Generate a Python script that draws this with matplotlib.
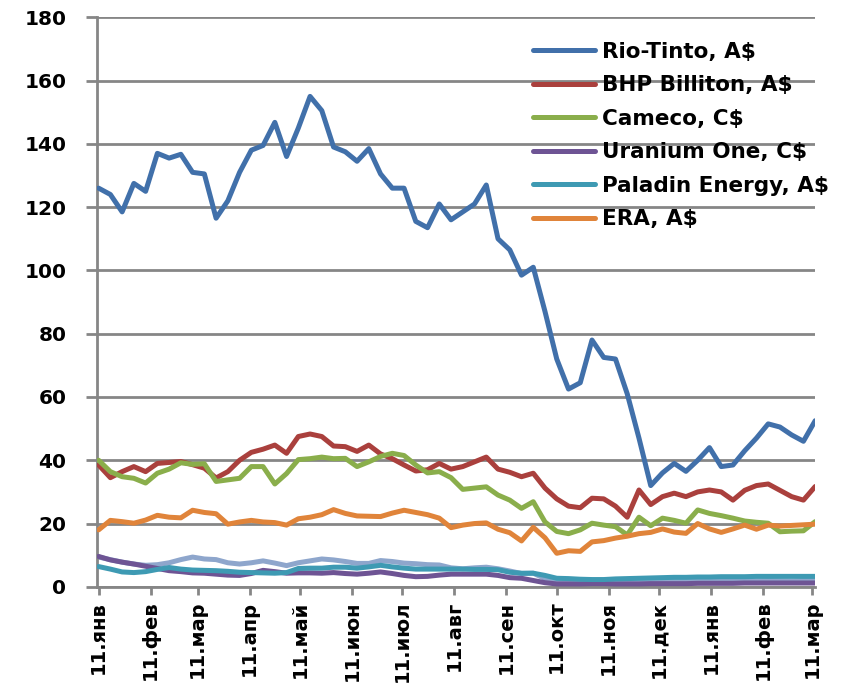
import matplotlib
matplotlib.use("Agg")
import matplotlib.pyplot as plt
import pandas as pd

# weekly closes, Jan 2011 - Mar 2012
weeks = pd.date_range("2011-01-01", periods=62, freq="7D")

rio_tinto = [126, 124, 118.5, 127.5, 125, 137, 135.5, 136.7, 131, 130.5,
             116.5, 122, 131, 138, 139.5, 146.8, 136, 145, 155, 150.5,
             139, 137.5, 134.5, 138.5, 130.5, 126, 126, 115.5, 113.5, 121,
             116, 118.5, 121, 127, 110, 106.5, 98.5, 101, 87, 72,
             62.5, 64.5, 78, 72.5, 72, 61, 47, 32, 36, 39,
             36.5, 40, 44, 38, 38.5, 43, 47, 51.5, 50.5, 48,
             46, 52.5]
bhp = [38.5, 34.5, 36.4, 38, 36.4, 39, 39.3, 39.6, 38.6, 37.5,
       34.4, 36.4, 40, 42.5, 43.5, 44.8, 42.2, 47.5, 48.3, 47.5,
       44.5, 44.3, 42.8, 44.8, 42, 40.5, 38.5, 36.6, 37, 39,
       37.2, 38, 39.5, 41, 37.2, 36.2, 34.8, 35.9, 31.2, 27.8,
       25.5, 25, 28, 27.8, 25.5, 22, 30.6, 26, 28.5, 29.6,
       28.5, 30, 30.6, 30, 27.4, 30.5, 32, 32.5, 30.5, 28.5,
       27.4, 31.7]
cameco = [40, 36.4, 34.8, 34.3, 32.8, 35.9, 37.2, 39.2, 38.7, 38.9,
          33.3, 33.8, 34.3, 38, 38, 32.5, 35.8, 40.2, 40.5, 41,
          40.5, 40.6, 38, 39.5, 41.2, 42.2, 41.5, 38.5, 36, 36.4,
          34.5, 30.8, 31.2, 31.6, 29, 27.4, 24.8, 26.9, 20.5, 17.5,
          16.8, 18, 20.1, 19.5, 19, 16.4, 22, 19.3, 21.7, 21,
          20.1, 24.3, 23.2, 22.5, 21.7, 20.8, 20.4, 20.1, 17.4, 17.6,
          17.7, 20.6]
uranium_one = [9.6, 8.5, 7.8, 7.2, 6.5, 5.8, 5.1, 4.8, 4.4, 4.3,
               4, 3.7, 3.6, 4.2, 5.2, 4.8, 4.3, 4.4, 4.4, 4.3,
               4.5, 4.2, 4, 4.3, 4.7, 4.2, 3.6, 3.2, 3.3, 3.7,
               4, 4, 4, 4, 3.6, 2.9, 2.7, 2, 1.3, 0.9,
               0.9, 0.9, 1, 1, 0.9, 0.9, 0.9, 1, 1, 1,
               1, 1.1, 1.1, 1.1, 1.1, 1.2, 1.2, 1.2, 1.2, 1.2,
               1.2, 1.2]
paladin = [6.4, 5.6, 4.7, 4.5, 4.8, 5.5, 6.1, 5.6, 5.3, 5.2,
           5.1, 4.9, 4.6, 4.5, 4.4, 4.3, 4.5, 5.8, 5.9, 5.9,
           6.2, 6.2, 5.9, 6.3, 6.8, 6.3, 5.9, 5.6, 5.6, 5.6,
           5.6, 5.6, 5.5, 5.5, 5.4, 4.6, 4.3, 4.3, 3.6, 2.7,
           2.6, 2.4, 2.3, 2.3, 2.5, 2.6, 2.7, 2.8, 2.9, 3,
           3, 3.1, 3.1, 3.2, 3.2, 3.2, 3.3, 3.3, 3.3, 3.3,
           3.3, 3.3]
era = [18, 21, 20.6, 20.1, 21.1, 22.6, 22, 21.8, 24.2, 23.5,
       23.1, 19.8, 20.5, 21, 20.5, 20.3, 19.5, 21.5, 22, 22.8,
       24.4, 23.2, 22.4, 22.3, 22.2, 23.3, 24.2, 23.5, 22.8, 21.7,
       18.7, 19.5, 20, 20.2, 18.2, 17.1, 14.5, 18.8, 15.5, 10.6,
       11.4, 11.2, 14.2, 14.6, 15.4, 16, 16.8, 17.2, 18.3, 17.3,
       16.9, 20, 18.3, 17.2, 18.3, 19.5, 18.2, 19.5, 19.2, 19.4,
       19.6, 19.8]
# seventh line, not named in the legend
unnamed = [9.4, 8.6, 7.8, 7.2, 6.8, 7, 7.6, 8.6, 9.4, 8.8,
           8.6, 7.6, 7.2, 7.6, 8.2, 7.5, 6.7, 7.6, 8.2, 8.8,
           8.5, 8, 7.4, 7.4, 8.3, 8, 7.5, 7.3, 7, 6.9,
           6, 5.7, 6, 6.2, 5.7, 5, 4.2, 4.3, 2.6, 1.7,
           1.5, 1.5, 1.6, 1.5, 1.4, 1.4, 1.5, 1.6, 1.6, 1.7,
           1.8, 2, 2, 1.9, 1.8, 1.9, 1.9, 2, 1.9, 1.8,
           2, 2.1]

tick_dates = pd.date_range("2011-01-01", "2012-03-01", freq="MS")
tick_labels = ["11.янв", "11.фев", "11.мар", "11.апр", "11.май", "11.июн",
               "11.июл", "11.авг", "11.сен", "11.окт", "11.ноя", "11.дек",
               "11.янв", "11.фев", "11.мар"]

series = [
    ("Rio-Tinto, A$", rio_tinto, "#4170AA"),
    ("BHP Billiton, A$", bhp, "#AA403D"),
    ("Cameco, C$", cameco, "#8AAE4B"),
    ("Uranium One, C$", uranium_one, "#6E5494"),
    ("Paladin Energy, A$", paladin, "#3E9AB3"),
    ("ERA, A$", era, "#E0843A"),
]

plt.rcParams["font.family"] = "DejaVu Sans"
plt.rcParams["font.weight"] = "bold"

fig = plt.figure(figsize=(8.43, 6.92), dpi=100)
ax = fig.add_axes([0.115, 0.152, 0.852, 0.823])

grid_col = "#868686"
ax.plot(weeks, unnamed, color="#8EA6CC", lw=3.6, solid_capstyle="round", zorder=2)
for name, vals, col in series:
    ax.plot(weeks, vals, color=col, lw=3.6, label=name,
            solid_capstyle="round", zorder=3)

ax.set_ylim(0, 180)
ax.set_yticks(range(0, 181, 20))
ax.set_xlim(pd.Timestamp("2010-12-31"), pd.Timestamp("2012-03-03"))
ax.set_xticks(tick_dates)
ax.set_xticklabels(tick_labels, rotation=90, fontsize=14, fontweight="bold")
ax.tick_params(axis="y", labelsize=14.5, length=8, width=2, color=grid_col, pad=14)
ax.tick_params(axis="x", length=6, width=2, color=grid_col, pad=4)

ax.grid(axis="y", color=grid_col, lw=2, zorder=0)
ax.set_axisbelow(True)
for side in ("top", "right"):
    ax.spines[side].set_visible(False)
for side in ("left", "bottom"):
    ax.spines[side].set_color(grid_col)
    ax.spines[side].set_linewidth(2)

ax.legend(loc="upper left", bbox_to_anchor=(0.632, 0.94),
          bbox_transform=fig.transFigure, frameon=False,
          prop={"size": 15.5, "weight": "bold"}, handlelength=2.9,
          handletextpad=0.33, labelspacing=0.63, borderpad=0, borderaxespad=0)

fig.savefig("out.png", dpi=100)
